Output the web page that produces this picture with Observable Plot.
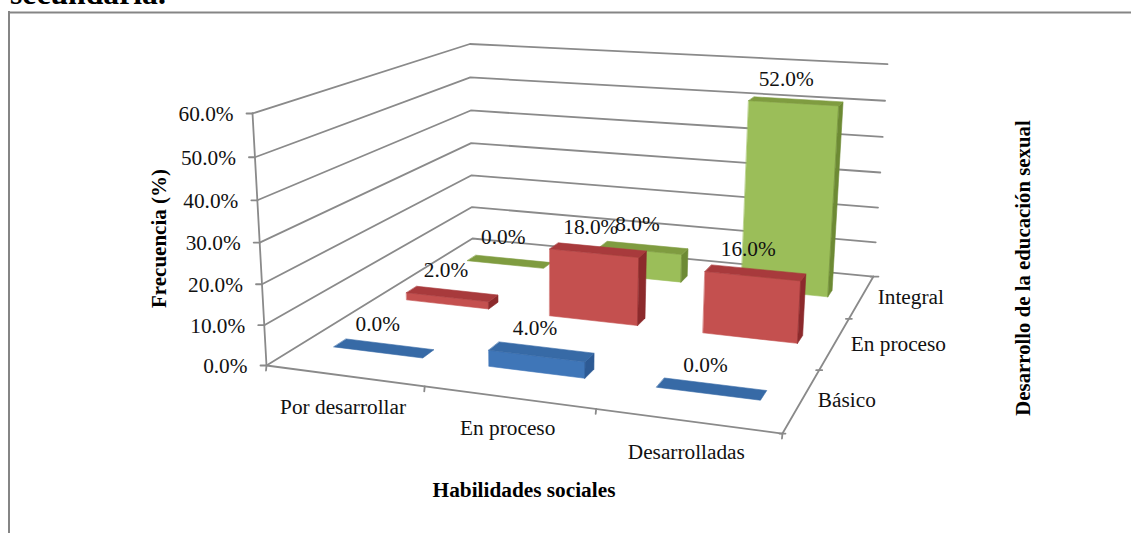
<!DOCTYPE html>
<html>
<head>
<meta charset="utf-8">
<script src="https://cdn.jsdelivr.net/npm/d3@7"></script>
<script src="https://cdn.jsdelivr.net/npm/@observablehq/plot@0.6"></script>
<style>html,body{margin:0;padding:0;background:#fff;overflow:hidden}svg{display:block}</style>
</head>
<body>
<div id="chart"></div>
<script>
const categories = ["Por desarrollar", "En proceso", "Desarrolladas"];
const seriesNames = ["Básico", "En proceso", "Integral"];
const basico = [0, 4, 0];
const enProceso = [2, 18, 16];
const integral = [0, 8, 52];
const seriesValues = [basico, enProceso, integral];
const valueTicks = [0, 10, 20, 30, 40, 50, 60];
const palette = [
  {front: "#3f76b8", top: "#376aa6", side: "#2d5a94"},
  {front: "#c4504f", top: "#a83a3c", side: "#8c2a2c"},
  {front: "#9bbe59", top: "#7f9c40", side: "#6d8a34"}
];
const serif = "'Liberation Serif', 'Times New Roman', serif";
const maxValue = 60;

// Camera of the 3-D chart: floor (u, v) and height (t) to the page.
function project(u, v, value) {
  const t = value / maxValue;
  const X = 425.8 * u + 353.7 * v - 26.2 * t + 266;
  const Y = 18.1 * u - 52.5 * v - 257.5 * t + 365;
  const W = -0.1153 * u + 0.313 * v - 0.0485 * t + 1;
  return [X / W, Y / W];
}
const halfU = 0.097, halfV = 0.026;

const faces = [], labels = [];
const addFace = (id, color, corners) => corners.forEach(([u, v, h]) => {
  const [x, y] = project(u, v, h);
  faces.push({id, color, x, y});
});
[2, 1, 0].forEach(s => categories.forEach((_, c) => {
  const value = seriesValues[s][c];
  const cu = (c + 0.5) / 3, cv = (s + 0.5) / 3;
  const u0 = cu - halfU, u1 = cu + halfU, v0 = cv - halfV, v1 = cv + halfV;
  const id = s + "-" + c + "-";
  if (value > 0) {
    addFace(id + "front", palette[s].front, [[u0, v0, 0], [u1, v0, 0], [u1, v0, value], [u0, v0, value]]);
    addFace(id + "side", palette[s].side, [[u1, v0, 0], [u1, v1, 0], [u1, v1, value], [u1, v0, value]]);
  }
  addFace(id + "top", palette[s].top, [[u0, v0, value], [u1, v0, value], [u1, v1, value], [u0, v1, value]]);
  const [x, y] = project(cu, cv, value);
  labels.push({x: x - value * 0.07, y: y + value * 0.04, text: value.toFixed(1) + "%"});
}));

const grid = [];
const addLine = (id, pts) => pts.forEach(([u, v, h]) => {
  const [x, y] = project(u, v, h);
  grid.push({id, x, y});
});
const addTick = (id, [u, v, h], a, b) => [a, b].forEach(([dx, dy]) => {
  const [x, y] = project(u, v, h);
  grid.push({id, x: x + dx, y: y + dy});
});
valueTicks.forEach(k => {
  addLine("wall" + k, [[0, 0, k], [0, 1, k], [1, 1, k]]);
  addTick("tick" + k, [0, 0, k], [0, 0], [-6, 0]);
});
addLine("axisV", [[0, 0, 0], [0, 0, 60]]);
addLine("floorFront", [[0, 0, 0], [1, 0, 0]]);
addLine("floorRight", [[1, 0, 0], [1, 1, 0]]);
[0, 1, 2, 3].forEach(i => {
  addTick("tickU" + i, [i / 3, 0, 0], [0, 0], [-0.5, 5]);
  addTick("tickV" + i, [1, i / 3, 0], [-3, 0], [i === 3 ? 5 : 3, 0]);
});

const valueLabels = valueTicks.map(k => {
  const [x, y] = project(0, 0, k);
  return {x: x - 19, y: y + 1, text: k.toFixed(1) + "%"};
});
const catLabels = categories.map((text, i) => {
  const [x, y] = project((i + 0.5) / 3, 0, 0);
  return {x: x - 1, y: y + 31, text};
});
const seriesLabels = seriesNames.map((text, i) => {
  const [x, y] = project(1, (i + 0.5) / 3, 0);
  return {x: x + 16, y: y + 0.5, text};
});

const chart = Plot.plot({
  width: 1131, height: 533,
  margin: 0,
  x: {domain: [0, 1131], range: [0, 1131], axis: null},
  y: {domain: [0, 533], range: [0, 533], axis: null},
  style: {background: "#fff", fontFamily: serif},
  marks: [
    Plot.ruleX([8.5], {y1: 11, y2: 533, stroke: "#858585", strokeWidth: 2}),
    Plot.ruleY([12], {x1: 8, x2: 1131, stroke: "#858585", strokeWidth: 2}),
    Plot.text(["secundaria."], {x: 9.5, y: 3.5, text: d => d, textAnchor: "start", lineAnchor: "bottom", fontWeight: "bold", fontSize: 31.7, fill: "#000"}),
    Plot.line(grid, {x: "x", y: "y", z: "id", stroke: "#8a8a8a", strokeWidth: 1.8}),
    Plot.line(faces, {x: "x", y: "y", z: "id", fill: "color", stroke: "color", strokeWidth: 0.6, curve: "linear-closed"}),
    Plot.text(labels, {x: "x", y: "y", text: "text", dx: -6, dy: -24, fontSize: 21.3, fill: "#111"}),
    Plot.text(valueLabels, {x: "x", y: "y", text: "text", textAnchor: "end", fontSize: 21.3, fill: "#111"}),
    Plot.text(catLabels, {x: "x", y: "y", text: "text", fontSize: 21.3, fill: "#111"}),
    Plot.text(seriesLabels, {x: "x", y: "y", text: "text", textAnchor: "start", fontSize: 21.3, fill: "#111"}),
    Plot.text(["Frecuencia (%)"], {x: 159, y: 238, text: d => d, rotate: -90, fontWeight: "bold", fontSize: 21, fill: "#000"}),
    Plot.text(["Habilidades sociales"], {x: 523.5, y: 490, text: d => d, fontWeight: "bold", fontSize: 21.3, fill: "#000"}),
    Plot.text(["Desarrollo de la educación sexual"], {x: 1023, y: 267.5, text: d => d, rotate: -90, fontWeight: "bold", fontSize: 20.8, fill: "#000"})
  ]
});
document.getElementById("chart").appendChild(chart);
</script>
</body>
</html>
